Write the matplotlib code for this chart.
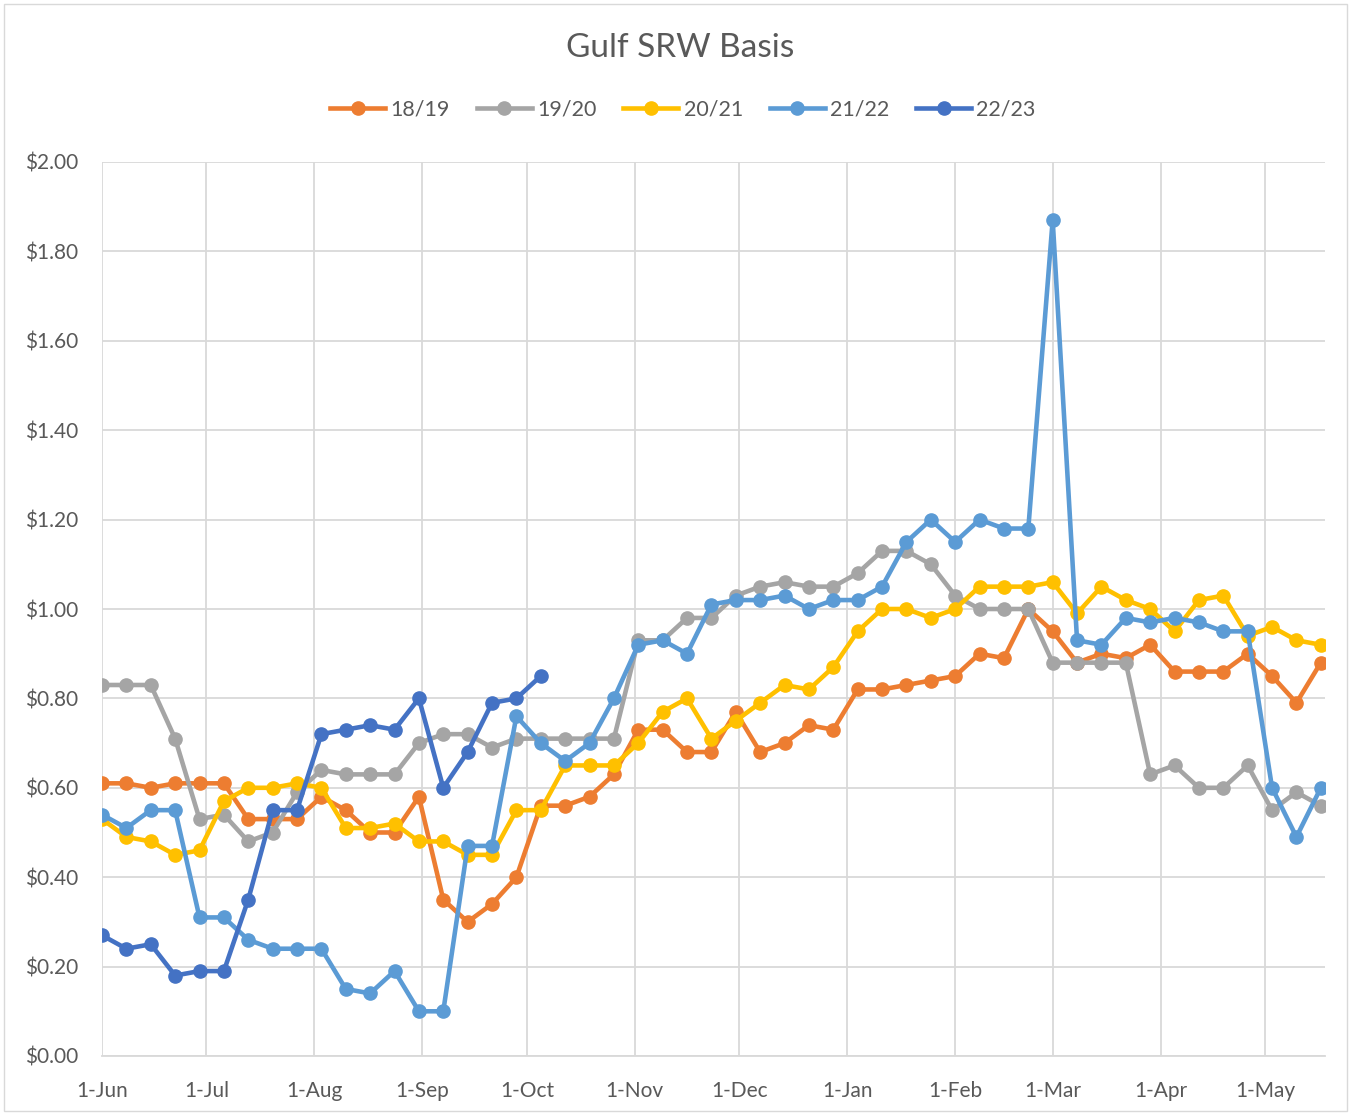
import matplotlib
matplotlib.use("Agg")
import matplotlib.pyplot as plt
from matplotlib.patches import Rectangle
import numpy as np

title = "Gulf SRW Basis"
series_names = ["18/19", "19/20", "20/21", "21/22", "22/23"]
colors = ["#ED7D31", "#A5A5A5", "#FFC000", "#5B9BD5", "#4472C4"]

month_days = [0, 30, 61, 92, 122, 153, 183, 214, 245, 273, 304, 334]
month_labels = ["1-Jun", "1-Jul", "1-Aug", "1-Sep", "1-Oct", "1-Nov", "1-Dec",
                "1-Jan", "1-Feb", "1-Mar", "1-Apr", "1-May"]
y_ticks = [0.0, 0.2, 0.4, 0.6, 0.8, 1.0, 1.2, 1.4, 1.6, 1.8, 2.0]

s1819 = [0.61, 0.61, 0.60, 0.61, 0.61, 0.61, 0.53, 0.53, 0.53, 0.58,
         0.55, 0.50, 0.50, 0.58, 0.35, 0.30, 0.34, 0.40, 0.56, 0.56,
         0.58, 0.63, 0.73, 0.73, 0.68, 0.68, 0.77, 0.68, 0.70, 0.74,
         0.73, 0.82, 0.82, 0.83, 0.84, 0.85, 0.90, 0.89, 1.00, 0.95,
         0.88, 0.90, 0.89, 0.92, 0.86, 0.86, 0.86, 0.90, 0.85, 0.79, 0.88]
s1920 = [0.83, 0.83, 0.83, 0.71, 0.53, 0.54, 0.48, 0.50, 0.59, 0.64,
         0.63, 0.63, 0.63, 0.70, 0.72, 0.72, 0.69, 0.71, 0.71, 0.71,
         0.71, 0.71, 0.93, 0.93, 0.98, 0.98, 1.03, 1.05, 1.06, 1.05,
         1.05, 1.08, 1.13, 1.13, 1.10, 1.03, 1.00, 1.00, 1.00, 0.88,
         0.88, 0.88, 0.88, 0.63, 0.65, 0.60, 0.60, 0.65, 0.55, 0.59, 0.56]
s2021 = [0.53, 0.49, 0.48, 0.45, 0.46, 0.57, 0.60, 0.60, 0.61, 0.60,
         0.51, 0.51, 0.52, 0.48, 0.48, 0.45, 0.45, 0.55, 0.55, 0.65,
         0.65, 0.65, 0.70, 0.77, 0.80, 0.71, 0.75, 0.79, 0.83, 0.82,
         0.87, 0.95, 1.00, 1.00, 0.98, 1.00, 1.05, 1.05, 1.05, 1.06,
         0.99, 1.05, 1.02, 1.00, 0.95, 1.02, 1.03, 0.94, 0.96, 0.93, 0.92]
s2122 = [0.54, 0.51, 0.55, 0.55, 0.31, 0.31, 0.26, 0.24, 0.24, 0.24,
         0.15, 0.14, 0.19, 0.10, 0.10, 0.47, 0.47, 0.76, 0.70, 0.66,
         0.70, 0.80, 0.92, 0.93, 0.90, 1.01, 1.02, 1.02, 1.03, 1.00,
         1.02, 1.02, 1.05, 1.15, 1.20, 1.15, 1.20, 1.18, 1.18, 1.87,
         0.93, 0.92, 0.98, 0.97, 0.98, 0.97, 0.95, 0.95, 0.60, 0.49, 0.60]
s2223 = [0.27, 0.24, 0.25, 0.18, 0.19, 0.19, 0.35, 0.55, 0.55, 0.72,
         0.73, 0.74, 0.73, 0.80, 0.60, 0.68, 0.79, 0.80, 0.85]

all_series = [s1819, s1920, s2021, s2122, s2223]

W, H = 1351, 1115
fig = plt.figure(figsize=(W / 100, H / 100), dpi=100)
fig.patches.append(Rectangle((4 / W, 4 / H), 1 - 8 / W, 1 - 8 / H, transform=fig.transFigure,
                             fill=False, edgecolor="#D9D9D9", linewidth=1))

ax = fig.add_axes([102 / W, 1 - 1056 / H, (1325 - 102) / W, (1056 - 162) / H])
font = "Lato"
tc = "#595959"

for name, vals, c in zip(series_names, all_series, colors):
    x = [7 * i for i in range(len(vals))]
    ax.plot(x, vals, color=c, linewidth=3.3, marker="o", markersize=9.5,
            label=name, solid_joinstyle="round", zorder=3)

ax.set_xlim(0, 351.2)
ax.set_ylim(0, 2.0)
ax.set_yticks(y_ticks)
ax.set_yticklabels([f"${v:.2f}" for v in y_ticks], fontfamily=font, fontsize=15, color=tc)
ax.set_xticks(month_days)
ax.set_xticklabels(month_labels, fontfamily=font, fontsize=15, color=tc)
ax.grid(True, color="#D9D9D9", linewidth=1.3, zorder=0)
ax.set_axisbelow(True)
for s in ["top", "right", "left"]:
    ax.spines[s].set_visible(False)
ax.spines["bottom"].set_color("#D9D9D9")
ax.spines["bottom"].set_linewidth(1.3)
ax.tick_params(axis="both", length=0)
ax.tick_params(axis="y", pad=17)
ax.tick_params(axis="x", pad=18)

fig.text(680 / W, 1 - 48 / H, title, ha="center", va="center", fontfamily=font,
         fontsize=24, color=tc)

leg = fig.legend(loc="center", bbox_to_anchor=(683 / W, 1 - 110 / H), ncol=5, frameon=False,
                 prop={"family": font, "size": 15.5}, handlelength=2.55, columnspacing=1.25,
                 handletextpad=0.25, labelcolor=tc)

fig.savefig("out.png", dpi=100)
